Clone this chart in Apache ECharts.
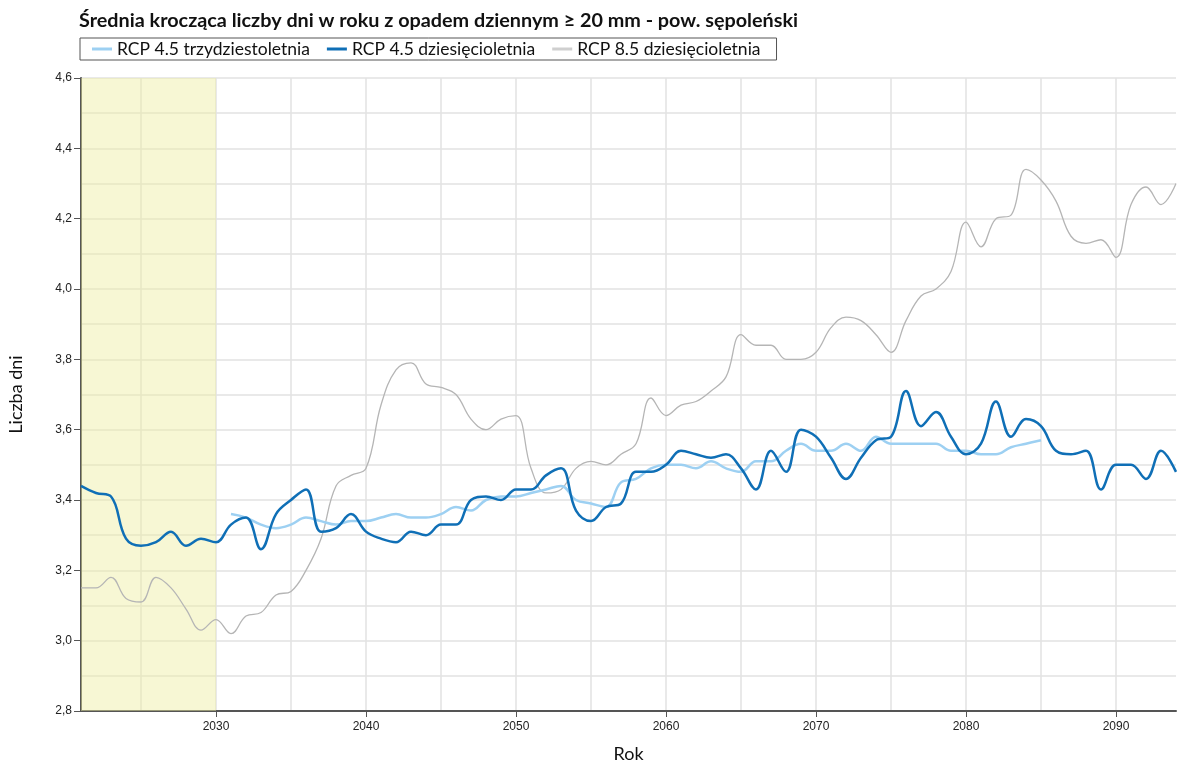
<!DOCTYPE html>
<html>
<head>
<meta charset="utf-8">
<script src="https://cdn.jsdelivr.net/npm/echarts@6/dist/echarts.min.js"></script>
<style>html,body{margin:0;padding:0;background:#fff;}#c{width:1178px;height:760px;}</style>
</head>
<body>
<div id="c"></div>
<script>
var years = [2021,2022,2023,2024,2025,2026,2027,2028,2029,2030,
  2031,2032,2033,2034,2035,2036,2037,2038,2039,2040,
  2041,2042,2043,2044,2045,2046,2047,2048,2049,2050,
  2051,2052,2053,2054,2055,2056,2057,2058,2059,2060,
  2061,2062,2063,2064,2065,2066,2067,2068,2069,2070,
  2071,2072,2073,2074,2075,2076,2077,2078,2079,2080,
  2081,2082,2083,2084,2085,2086,2087,2088,2089,2090,
  2091,2092,2093,2094];

// RCP 4.5 trzydziestoletnia: 2031..2085
var rcp45_30_years = [2031,2032,2033,2034,2035,2036,2037,2038,2039,2040,
  2041,2042,2043,2044,2045,2046,2047,2048,2049,2050,
  2051,2052,2053,2054,2055,2056,2057,2058,2059,2060,
  2061,2062,2063,2064,2065,2066,2067,2068,2069,2070,
  2071,2072,2073,2074,2075,2076,2077,2078,2079,2080,
  2081,2082,2083,2084,2085];
var rcp45_30 = [3.36,3.35,3.33,3.32,3.33,3.35,3.34,3.33,3.34,3.34,
  3.35,3.36,3.35,3.35,3.36,3.38,3.37,3.40,3.41,3.41,
  3.42,3.43,3.44,3.40,3.39,3.38,3.45,3.46,3.49,3.50,
  3.50,3.49,3.51,3.49,3.48,3.51,3.51,3.54,3.56,3.54,
  3.54,3.56,3.54,3.58,3.56,3.56,3.56,3.56,3.54,3.54,
  3.53,3.53,3.55,3.56,3.57];

// RCP 4.5 dziesięcioletnia: 2021..2094
var rcp45_10 = [3.44,3.42,3.41,3.29,3.27,3.28,3.31,3.27,3.29,3.28,
  3.33,3.35,3.26,3.36,3.40,3.43,3.31,3.32,3.36,3.31,
  3.29,3.28,3.31,3.30,3.33,3.33,3.40,3.41,3.40,3.43,
  3.43,3.47,3.49,3.37,3.34,3.38,3.39,3.48,3.48,3.50,
  3.54,3.53,3.52,3.53,3.49,3.43,3.54,3.48,3.60,3.58,
  3.52,3.46,3.52,3.57,3.58,3.71,3.61,3.65,3.58,3.53,
  3.56,3.68,3.58,3.63,3.61,3.54,3.53,3.54,3.43,3.50,
  3.50,3.46,3.54,3.48];

// RCP 8.5 dziesięcioletnia: 2021..2094
var rcp85_10 = [3.15,3.15,3.18,3.12,3.11,3.18,3.15,3.09,3.03,3.06,
  3.02,3.07,3.08,3.13,3.14,3.20,3.29,3.44,3.47,3.49,
  3.67,3.77,3.79,3.73,3.72,3.70,3.63,3.60,3.63,3.64,
  3.49,3.42,3.43,3.49,3.51,3.50,3.53,3.56,3.69,3.64,
  3.67,3.68,3.71,3.75,3.87,3.84,3.84,3.80,3.80,3.82,
  3.89,3.92,3.91,3.87,3.82,3.91,3.98,4.00,4.05,4.19,
  4.12,4.20,4.21,4.34,4.31,4.25,4.15,4.13,4.14,4.09,
  4.24,4.29,4.24,4.30];

var referenceStart = 2021, referenceEnd = 2030;
var yMin = 2.8, yMax = 4.6, yStep = 0.2;

var cats = years.map(String);
var s30 = rcp45_30_years.map(function(y,i){ return [String(y), rcp45_30[i]]; });

var chart = echarts.init(document.getElementById('c'), null, {renderer:'canvas'});
var fontMain = 'Lato, "Open Sans", sans-serif';
chart.setOption({
  animation:false,
  backgroundColor:'#fff',
  title:{
    text:'Średnia krocząca liczby dni w roku z opadem dziennym ≥ 20 mm - pow. sępoleński',
    left:74, top:6,
    textStyle:{fontFamily:fontMain, fontSize:19.8, fontWeight:'bold', color:'#111'}
  },
  legend:{
    left:80, top:38,
    data:['RCP 4.5 trzydziestoletnia','RCP 4.5 dziesięcioletnia','RCP 8.5 dziesięcioletnia'],
    icon:'rect', itemWidth:20, itemHeight:3, itemGap:17,
    borderColor:'#555', borderWidth:1, padding:[2,16,2,12],
    backgroundColor:'#fff',
    textStyle:{fontFamily:fontMain, fontSize:17.5, color:'#111'}
  },
  grid:{left:81, right:2, top:78, bottom:49, outerBoundsMode:'none', containLabel:false},
  xAxis:{
    type:'category', data:cats, boundaryGap:false,
    name:'Rok', nameLocation:'middle', nameGap:34,
    nameTextStyle:{fontFamily:fontMain, fontSize:18, color:'#111'},
    axisLine:{lineStyle:{color:'#555', width:2}},
    axisTick:{interval:function(i,v){return (+v)%10===0;}, length:6, lineStyle:{color:'#555', width:1}},
    axisLabel:{interval:function(i,v){return (+v)%10===0;}, fontFamily:'Liberation Sans', fontSize:12, color:'#222', margin:10},
    splitLine:{show:true, interval:function(i,v){return (+v)%5===0;}, lineStyle:{color:'#e2e2e2', width:1.5}}
  },
  yAxis:{
    type:'value', min:yMin, max:yMax, interval:yStep,
    name:'Liczba dni', nameLocation:'middle', nameGap:56, nameRotate:90,
    nameTextStyle:{fontFamily:fontMain, fontSize:18, color:'#111'},
    axisLine:{show:true, lineStyle:{color:'#555', width:2}},
    axisTick:{show:true, length:7, lineStyle:{color:'#555', width:1}},
    axisLabel:{fontFamily:'Liberation Sans', fontSize:12, color:'#222', margin:9,
      formatter:function(v){return v.toFixed(1).replace('.',',');}},
    splitLine:{lineStyle:{color:'#e2e2e2', width:1.5}},
    minorTick:{show:false, splitNumber:2},
    minorSplitLine:{show:true, lineStyle:{color:'#e2e2e2', width:1.5}}
  },
  series:[
    {
      name:'RCP 4.5 trzydziestoletnia', type:'line', data:s30, smooth:0.4,
      showSymbol:false, z:3,
      lineStyle:{color:'#9dd0f2', width:2.5}, itemStyle:{color:'#9dd0f2'},
      markArea:{silent:true, itemStyle:{color:'rgba(238,238,160,0.45)'},
        data:[[{xAxis:String(referenceStart)},{xAxis:String(referenceEnd)}]]}
    },
    {
      name:'RCP 4.5 dziesięcioletnia', type:'line', data:rcp45_10, smooth:0.4,
      showSymbol:false, z:4,
      lineStyle:{color:'#0f6fb6', width:2.5}, itemStyle:{color:'#0f6fb6'}
    },
    {
      name:'RCP 8.5 dziesięcioletnia', type:'line', data:rcp85_10, smooth:0.4,
      showSymbol:false, z:2,
      lineStyle:{color:'#b5b5b5', width:1.3}, itemStyle:{color:'#cfcfcf'}
    }
  ]
});
</script>
</body>
</html>
